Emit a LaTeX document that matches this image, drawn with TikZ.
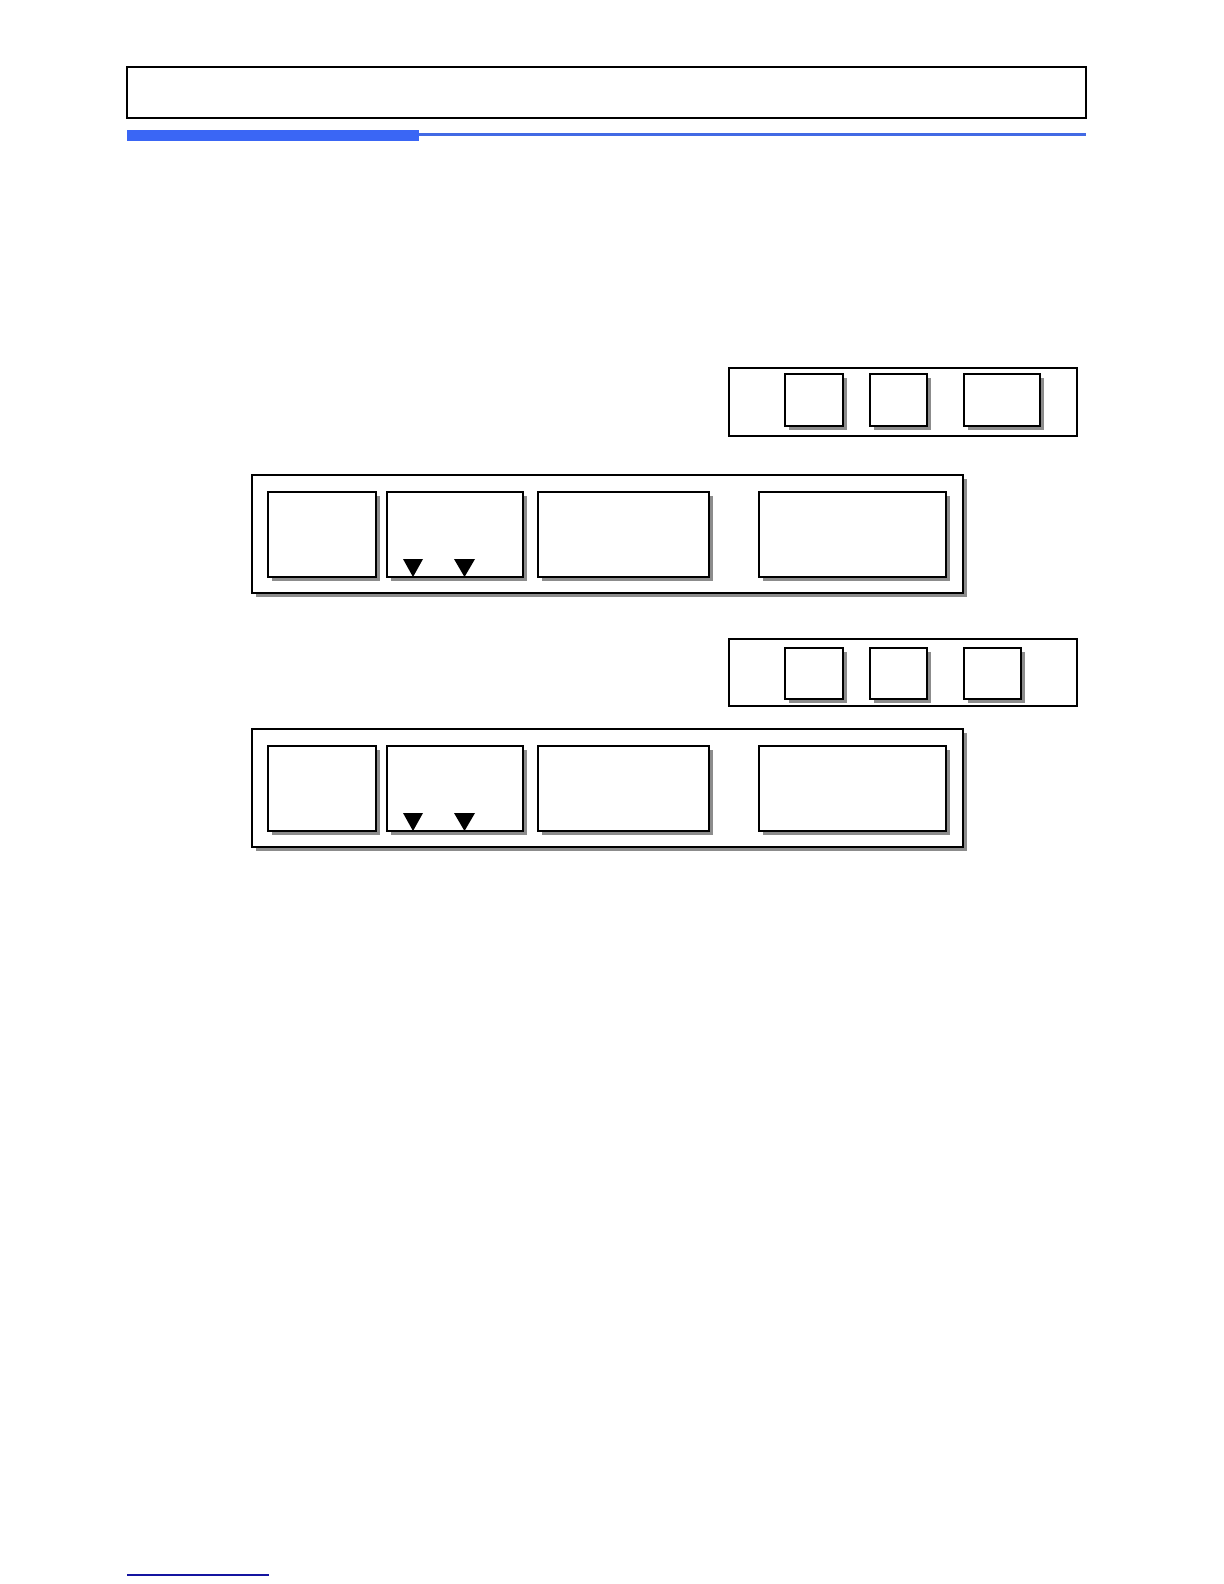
\documentclass[tikz,border=0pt]{standalone}
\usepackage{xcolor}
\usepackage{tikz}
\usetikzlibrary{positioning,fit,shadows}
\definecolor{barblue}{RGB}{58,102,245}
\definecolor{lineblue}{RGB}{66,106,228}
\definecolor{footblue}{RGB}{20,20,160}
\tikzset{
    headbox/.style={draw, line width=0.7pt, inner sep=0pt},
    keypanel/.style={draw, line width=1.2pt, inner sep=0pt},
    keybox/.style={draw, fill=white, line width=1pt, inner sep=0pt,
        drop shadow={shadow xshift=1.8pt, shadow yshift=-1.8pt, fill=black!45, opacity=1}},
    lcdbox/.style={draw, fill=white, line width=0.7pt, inner sep=0pt,
        drop shadow={shadow xshift=2pt, shadow yshift=-2pt, fill=black!45, opacity=1},
        drop shadow={shadow xshift=0.6pt, shadow yshift=-0.6pt, fill=black, opacity=1}},
    mark tri/.style={fill=black},
}

\begin{document}
\begin{tikzpicture}[x=0.5pt, y=-0.5pt]
    \fill[white] (0,0) rectangle (1224,1584);
    \useasboundingbox (0,0) rectangle (1224,1584);

    \node[headbox, fit={(127,67) (1086,118)}] (header) {};
    \fill[barblue] (127,130) rectangle (419,141);
    \fill[lineblue] (419,133.5) rectangle (1086,136.5);

    \node[keypanel, fit={(729,368) (1077,436)}] (keysA) {};
    \node[keybox, fit={(785,374) (843,426)}] (keyA1) {};
    \node[keybox, fit={(870,374) (927,426)}] (keyA2) {};
    \node[keybox, fit={(964,374) (1040,426)}] (keyA3) {};

    \node[lcdbox, fit={(252,475) (963,593)}] (lcdA) {};
    \node[lcdbox, fit={(268,492) (376,577)}] (lcdA1) {};
    \node[lcdbox, fit={(387,492) (523,577)}] (lcdA2) {};
    \node[lcdbox, fit={(538,492) (709,577)}] (lcdA3) {};
    \node[lcdbox, fit={(759,492) (946,577)}] (lcdA4) {};
    \fill[mark tri] (403,559) -- (423,559) -- (413,577) -- cycle;
    \fill[mark tri] (454,559) -- (475,559) -- (464.5,577) -- cycle;

    \node[keypanel, fit={(729,639) (1077,706)}] (keysB) {};
    \node[keybox, fit={(785,648) (843,699)}] (keyB1) {};
    \node[keybox, fit={(870,648) (927,699)}] (keyB2) {};
    \node[keybox, fit={(964,648) (1021,699)}] (keyB3) {};

    \node[lcdbox, fit={(252,729) (963,847)}] (lcdB) {};
    \node[lcdbox, fit={(268,746) (376,831)}] (lcdB1) {};
    \node[lcdbox, fit={(387,746) (523,831)}] (lcdB2) {};
    \node[lcdbox, fit={(538,746) (709,831)}] (lcdB3) {};
    \node[lcdbox, fit={(759,746) (946,831)}] (lcdB4) {};
    \fill[mark tri] (403,813) -- (423,813) -- (413,831) -- cycle;
    \fill[mark tri] (454,813) -- (475,813) -- (464.5,831) -- cycle;

    \draw[footblue, line width=0.6pt] (127,1575) -- (269,1575);
\end{tikzpicture}
\end{document}
